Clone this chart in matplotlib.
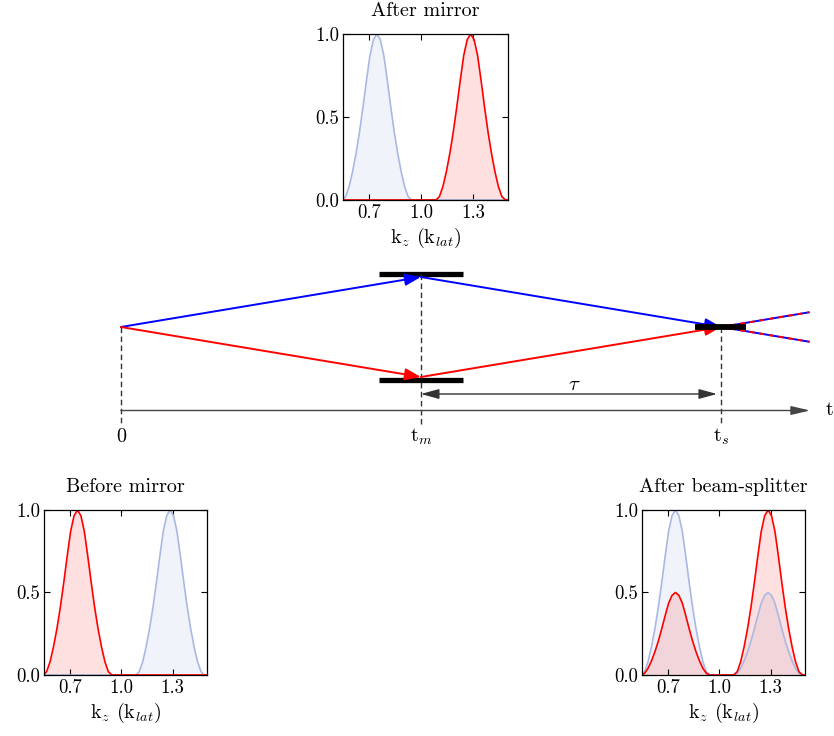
import numpy as np
import matplotlib
matplotlib.use("Agg")
import matplotlib.pyplot as plt

plt.rcParams['font.family'] = 'serif'
plt.rcParams['font.serif'] = ['cmr10']
plt.rcParams['mathtext.fontset'] = 'cm'
plt.rcParams['axes.formatter.use_mathtext'] = True

# momentum profiles of the wave packets
k_offsets = np.round(np.arange(-0.22, 0.2201, 0.02), 2)
profile = [0.0, 0.0, 0.02, 0.08, 0.17, 0.28, 0.41, 0.56, 0.72, 0.87, 0.965,
           1.0,
           0.965, 0.87, 0.72, 0.56, 0.41, 0.28, 0.17, 0.08, 0.02, 0.0, 0.0]
peak_k = [0.745, 1.285]

panel_titles = ['Before mirror', 'After mirror', 'After beam-splitter']
red_amp = [[1.0, 0.0], [0.0, 1.0], [0.5, 1.0]]
blue_amp = [[0.0, 1.0], [1.0, 0.0], [1.0, 0.5]]
xticks = [0.7, 1.0, 1.3]
yticks = [0.0, 0.5, 1.0]

# space-time diagram (t in units of t_m, y in beam separations)
event_t = [0.0, 1.0, 2.0]
event_labels = ['0', r't$_m$', r't$_s$']
blue_path_y = [0.0, 1.0, 0.0]
red_path_y = [0.0, -1.0, 0.0]
out_t = 2.293

RED = '#ff0000'
BLUE = '#0000ff'
LBLUE = '#a9b9e3'

fig = plt.figure(figsize=(8.34, 7.36), dpi=100)

# ---- main diagram ----
ax = fig.add_axes([0, 0, 1, 1])
ax.set_xlim(-0.403, 2.377)
ax.set_ylim(-8.18, 6.54)
ax.axis('off')

beam_head = '-|>,head_length=0.8,head_width=0.3'
for path, col in [(blue_path_y, BLUE), (red_path_y, RED)]:
    for i in range(2):
        ax.annotate('', xy=(event_t[i + 1], path[i + 1]), xytext=(event_t[i], path[i]),
                    arrowprops=dict(arrowstyle=beam_head, color=col, lw=1.4,
                                    mutation_scale=12, shrinkA=0, shrinkB=0))

# outputs of the beam splitter
for s in [1, -1]:
    ax.plot([event_t[2], out_t], [0, s * (out_t - event_t[2])], color=BLUE, lw=1.4)
    ax.plot([event_t[2], out_t], [0, s * (out_t - event_t[2])], color=RED, lw=1.4,
            dashes=(2.5, 2.5))

# mirrors and beam splitter
ax.plot([0.86, 1.14], [1.06, 1.06], color='k', lw=3.8, solid_capstyle='butt')
ax.plot([0.86, 1.14], [-1.06, -1.06], color='k', lw=3.8, solid_capstyle='butt')
ax.plot([1.913, 2.083], [0, 0], color='k', lw=4.2, solid_capstyle='butt', zorder=5)

# vertical dashed markers
for t, y0 in zip(event_t, [0.0, 1.06, 0.0]):
    ax.plot([t, t], [y0, -1.95], color='#333333', lw=1.0, dashes=(4, 2.5))

for t, lab in zip(event_t, event_labels):
    ax.text(t, -2.3, lab, ha='center', va='baseline', fontsize=14.5)

# time axis
ax.annotate('', xy=(2.297, -1.67), xytext=(0, -1.67),
            arrowprops=dict(arrowstyle='-|>,head_length=1.15,head_width=0.27',
                            color='#444444', lw=1.0, mutation_scale=10,
                            shrinkA=0, shrinkB=0))
ax.text(2.35, -1.67, 't', ha='left', va='center', fontsize=14.5)

# tau interval
ax.annotate('', xy=(1.987, -1.34), xytext=(1.0, -1.34),
            arrowprops=dict(arrowstyle='<|-|>,head_length=1.1,head_width=0.3',
                            color='#333333', lw=1.0, mutation_scale=10,
                            shrinkA=0, shrinkB=0))
ax.text(1.51, -1.27, r'$\tau$', ha='center', va='baseline', fontsize=15)

# ---- momentum insets ----
positions = [[0.0528, 0.0829, 0.1954, 0.2242],
             [0.4113, 0.7283, 0.1978, 0.2255],
             [0.7698, 0.0829, 0.1954, 0.2242]]

for pos, title, ra, ba in zip(positions, panel_titles, red_amp, blue_amp):
    a = fig.add_axes(pos)
    k = np.concatenate([peak_k[0] + k_offsets, peak_k[1] + k_offsets])
    red = np.concatenate([ra[0] * np.array(profile), ra[1] * np.array(profile)])
    blue = np.concatenate([ba[0] * np.array(profile), ba[1] * np.array(profile)])
    a.fill_between(k, 0, blue, color='#eef1f8', alpha=0.85, lw=0)
    a.fill_between(k, 0, red, color=RED, alpha=0.12, lw=0)
    a.plot(k, blue, color=LBLUE, lw=1.2)
    a.plot(k, red, color=RED, lw=1.2)
    a.set_xlim(0.55, 1.5)
    a.set_ylim(0, 1.0)
    a.set_xticks(xticks)
    a.set_yticks(yticks)
    a.set_xticklabels(['%.1f' % v for v in xticks])
    a.set_yticklabels(['%.1f' % v for v in yticks])
    a.tick_params(direction='in', top=True, right=True, length=4.5, width=0.8,
                  labelsize=13.5, pad=3)
    for sp in a.spines.values():
        sp.set_linewidth(0.9)
    a.set_title(title, fontsize=14.5, pad=13)
    a.set_xlabel(r'k$_z$ (k$_{lat}$)', fontsize=14.5, labelpad=3)

fig.savefig('out.png', dpi=100)
